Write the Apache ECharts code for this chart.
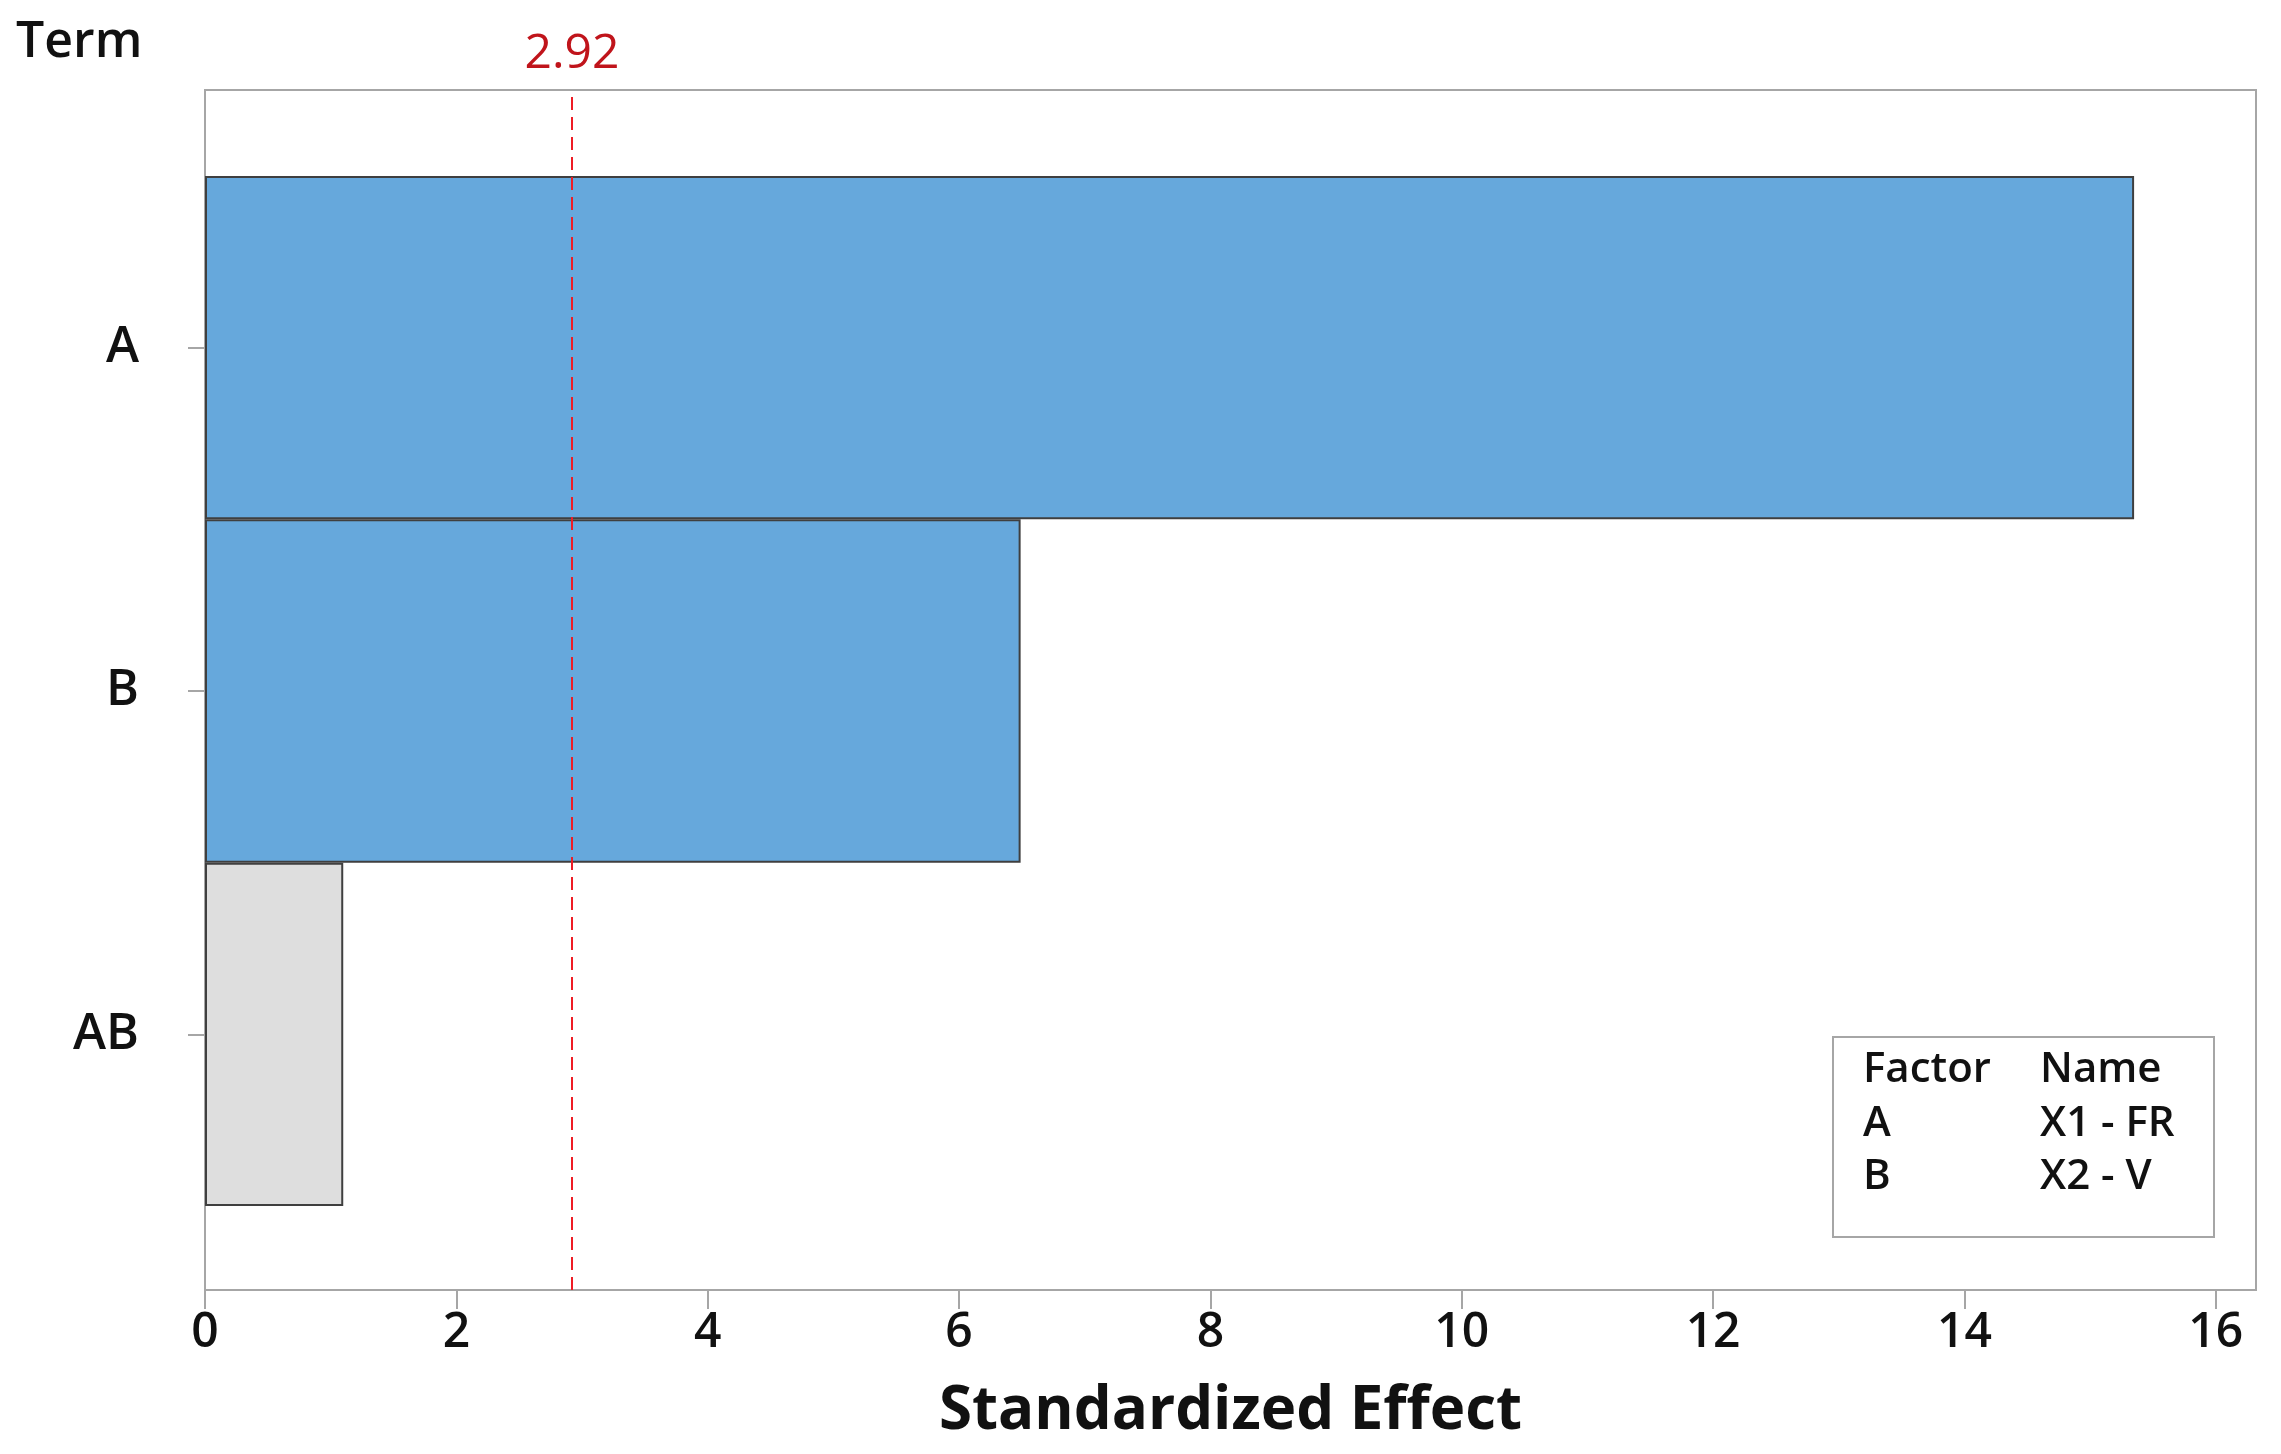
<!DOCTYPE html>
<html>
<head>
<meta charset="utf-8">
<script src="https://cdn.jsdelivr.net/npm/echarts@6/dist/echarts.min.js"></script>
<style>html,body{margin:0;padding:0;background:#fff;}#c{width:2281px;height:1454px;}</style>
</head>
<body>
<div id="c"></div>
<script>
const terms = ['A', 'B', 'AB'];
const effects = [15.35, 6.49, 1.10];
const critical = 2.92;
const xTicks = [0, 2, 4, 6, 8, 10, 12, 14, 16];
const legendFactors = ['A', 'B'];
const legendNames = ['X1 - FR', 'X2 - V'];

const FONT = '"Open Sans", "Noto Sans", sans-serif';
const X_MAX = 16.32;
const chart = echarts.init(document.getElementById('c'), null, {renderer: 'canvas'});

const barData = effects.map(v => ({
  value: v,
  itemStyle: {color: v > critical ? '#66A8DC' : '#DEDEDE'}
}));

const legendGraphics = [
  {type: 'rect', z: 10, shape: {x: 1833, y: 1037, width: 381, height: 200},
   style: {fill: '#fff', stroke: '#A6A6A6', lineWidth: 2}},
  {type: 'text', z: 11, x: 1863, y: 1070, style: {text: 'Factor', font: '600 42px ' + FONT, fill: '#111', textVerticalAlign: 'middle'}},
  {type: 'text', z: 11, x: 2040, y: 1070, style: {text: 'Name', font: '600 42px ' + FONT, fill: '#111', textVerticalAlign: 'middle'}}
];
legendFactors.forEach((f, i) => {
  legendGraphics.push({type: 'text', z: 11, x: 1863, y: 1124 + i * 53, style: {text: f, font: '600 42px ' + FONT, fill: '#111', textVerticalAlign: 'middle'}});
  legendGraphics.push({type: 'text', z: 11, x: 2040, y: 1124 + i * 53, style: {text: legendNames[i], font: '600 42px ' + FONT, fill: '#111', textVerticalAlign: 'middle'}});
});
legendGraphics.push({type: 'text', x: 16, y: 43, style: {text: 'Term', font: '600 50px ' + FONT, fill: '#111', textVerticalAlign: 'middle'}});

chart.setOption({
  backgroundColor: '#fff',
  animation: false,
  grid: [
    {left: 205, right: 25, top: 176, bottom: 248},
    {left: 205, right: 25, top: 90, bottom: 164, show: true, borderColor: '#A6A6A6', borderWidth: 2, backgroundColor: 'transparent'}
  ],
  xAxis: [
    {gridIndex: 0, type: 'value', min: 0, max: X_MAX, show: false},
    {
      gridIndex: 1, type: 'value', min: 0, max: X_MAX, interval: 2,
      splitLine: {show: false},
      axisLine: {show: true, lineStyle: {color: '#A6A6A6', width: 2}},
      axisTick: {show: true, length: 19, customValues: xTicks, lineStyle: {color: '#A6A6A6', width: 2}},
      axisLabel: {fontFamily: FONT, fontSize: 48, fontWeight: 600, color: '#111', margin: 19,
        customValues: xTicks},
      name: 'Standardized Effect', nameLocation: 'middle', nameGap: 92,
      nameTextStyle: {fontFamily: FONT, fontSize: 60, fontWeight: 'bold', color: '#111'}
    }
  ],
  yAxis: [
    {
      gridIndex: 0, type: 'category', data: terms, inverse: true,
      splitLine: {show: false},
      axisLine: {show: false},
      axisTick: {show: true, length: 17, alignWithLabel: true, lineStyle: {color: '#A6A6A6', width: 2}},
      axisLabel: {fontFamily: FONT, fontSize: 50, fontWeight: 600, color: '#111', margin: 66}
    },
    {gridIndex: 1, type: 'value', min: 0, max: 1, show: false}
  ],
  series: [
    {
      type: 'bar', xAxisIndex: 0, yAxisIndex: 0,
      data: barData,
      barWidth: '100%', barCategoryGap: 0,
      itemStyle: {borderColor: '#3F3F3F', borderWidth: 2}
    },
    {
      type: 'scatter', xAxisIndex: 1, yAxisIndex: 1,
      data: [[critical, 0.5]], symbolSize: 0, silent: true,
      markLine: {
        symbol: 'none', silent: true,
        lineStyle: {color: '#EE1C25', type: [13, 7], width: 2},
        label: {show: true, position: 'end', formatter: String(critical), color: '#C0141B',
          fontFamily: FONT, fontSize: 48, distance: 12},
        data: [{xAxis: critical}]
      }
    }
  ],
  graphic: legendGraphics
});
</script>
</body>
</html>
